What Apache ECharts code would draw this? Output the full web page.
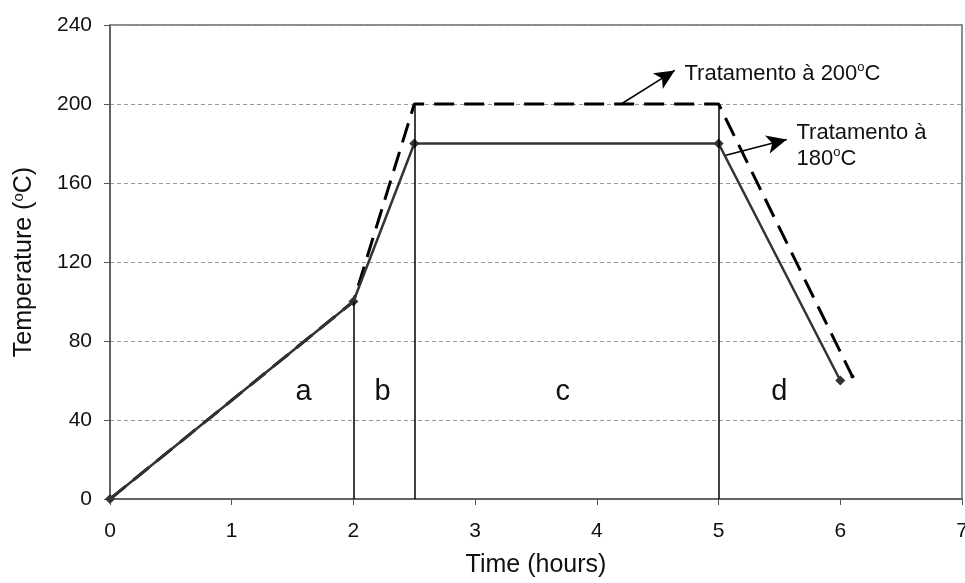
<!DOCTYPE html>
<html><head><meta charset="utf-8">
<script src="https://cdn.jsdelivr.net/npm/echarts@6/dist/echarts.min.js"></script>
<style>html,body{margin:0;padding:0;background:#fff}#c{width:965px;height:583px}</style>
</head><body><div id="c"></div>
<script>
// Data
const xTicks = [0,1,2,3,4,5,6,7];
const yTicks = [0,40,80,120,160,200,240];
const series180 = [[0,0],[2,100],[2.5,180],[5,180],[6,60]];
const series200 = [[0,0],[2,100],[2.5,200],[5,200],[6.1,62]];
const phaseLines = [[2,100],[2.5,200],[5,200]];
const phaseLabels = [['a',1.59,54],['b',2.24,54],['c',3.72,54],['d',5.5,54]];
const arrow200 = [[4.2,200],[4.64,217]];
const arrow180 = [[5.06,174],[5.56,182]];
const note200 = [4.72,215.3];
const note180 = [5.64,179];

const FONT = '"Liberation Sans", Arial, sans-serif';
const chart = echarts.init(document.getElementById('c'), null, {renderer:'canvas'});
const supRich = {
  t:{fontFamily:FONT,fontSize:22,color:'#111'},
  s:{fontFamily:FONT,fontSize:13,color:'#111',verticalAlign:'top',padding:[0,0,8,0]}
};
chart.setOption({
  animation:false,
  backgroundColor:'#fff',
  grid:{left:110,right:3,top:25,bottom:84,outerBoundsMode:'none',show:true,borderColor:'#666',borderWidth:1.5},
  xAxis:{type:'value',min:xTicks[0],max:xTicks[xTicks.length-1],interval:1,
    name:'Time (hours)',nameLocation:'middle',nameGap:54,
    nameTextStyle:{fontFamily:FONT,fontSize:25,color:'#111'},
    axisLine:{lineStyle:{color:'#555',width:1.5}},
    axisTick:{show:true,length:6,lineStyle:{color:'#555'}},
    axisLabel:{margin:22,fontFamily:FONT,fontSize:21,color:'#111'},
    splitLine:{show:false}},
  yAxis:{type:'value',min:yTicks[0],max:yTicks[yTicks.length-1],interval:40,
    name:'{t|Temperature (}{s|o}{t|C)}',nameLocation:'middle',nameGap:72,nameRotate:90,
    nameTextStyle:{fontFamily:FONT,fontSize:25,color:'#111',rich:{
      t:{fontFamily:FONT,fontSize:25,color:'#111'},
      s:{fontFamily:FONT,fontSize:15,color:'#111',verticalAlign:'top',padding:[0,0,12,0]}}},
    axisLine:{show:true,lineStyle:{color:'#555',width:1.5}},
    axisTick:{show:true,length:6,lineStyle:{color:'#555'}},
    axisLabel:{margin:18,fontFamily:FONT,fontSize:21,color:'#111'},
    splitLine:{show:true,lineStyle:{color:'#999',type:[4,3],width:1}}},
  series:[
    {type:'line',data:series200,symbol:'none',z:3,
      lineStyle:{color:'#000',width:3,type:[20,10]},
      markLine:{silent:true,symbol:['none','none'],label:{show:false},
        lineStyle:{color:'#000',width:1.5,type:'solid'},
        data:phaseLines.map(p=>[{coord:[p[0],0]},{coord:[p[0],p[1]]}])}},
    {type:'line',data:series180,symbol:'diamond',symbolSize:10,z:4,
      itemStyle:{color:'#333'},lineStyle:{color:'#333',width:2.5},
      markLine:{silent:true,symbol:['none','arrow'],symbolSize:[14,20],label:{show:false},
        lineStyle:{color:'#000',width:1.5,type:'solid'},
        data:[[{coord:arrow200[0]},{coord:arrow200[1]}],[{coord:arrow180[0]},{coord:arrow180[1]}]]}},
    {type:'scatter',data:[series200[series200.length-1]],symbol:'circle',symbolSize:4,itemStyle:{color:'#000',opacity:1},z:3},
    {type:'scatter',symbolSize:0,z:5,itemStyle:{opacity:1},
      data:phaseLabels.map(l=>({value:[l[1],l[2]],name:l[0]})),
      label:{show:true,position:'inside',formatter:p=>p.name,fontFamily:FONT,fontSize:29,color:'#111'}},
    {type:'scatter',symbolSize:0,z:5,itemStyle:{opacity:1},
      data:[{value:note200,name:'Tratamento à 200{s|o}C'},{value:note180,name:'Tratamento à\n180{s|o}C'}],
      label:{show:true,position:'right',distance:0,align:'left',formatter:p=>p.name.split('\n').map(s=>'{t|'+s.replace(/\{s\|o\}/,'}{s|o}{t|')+'}').join('\n'),
        rich:supRich,lineHeight:26}}
  ]
});
</script></body></html>
